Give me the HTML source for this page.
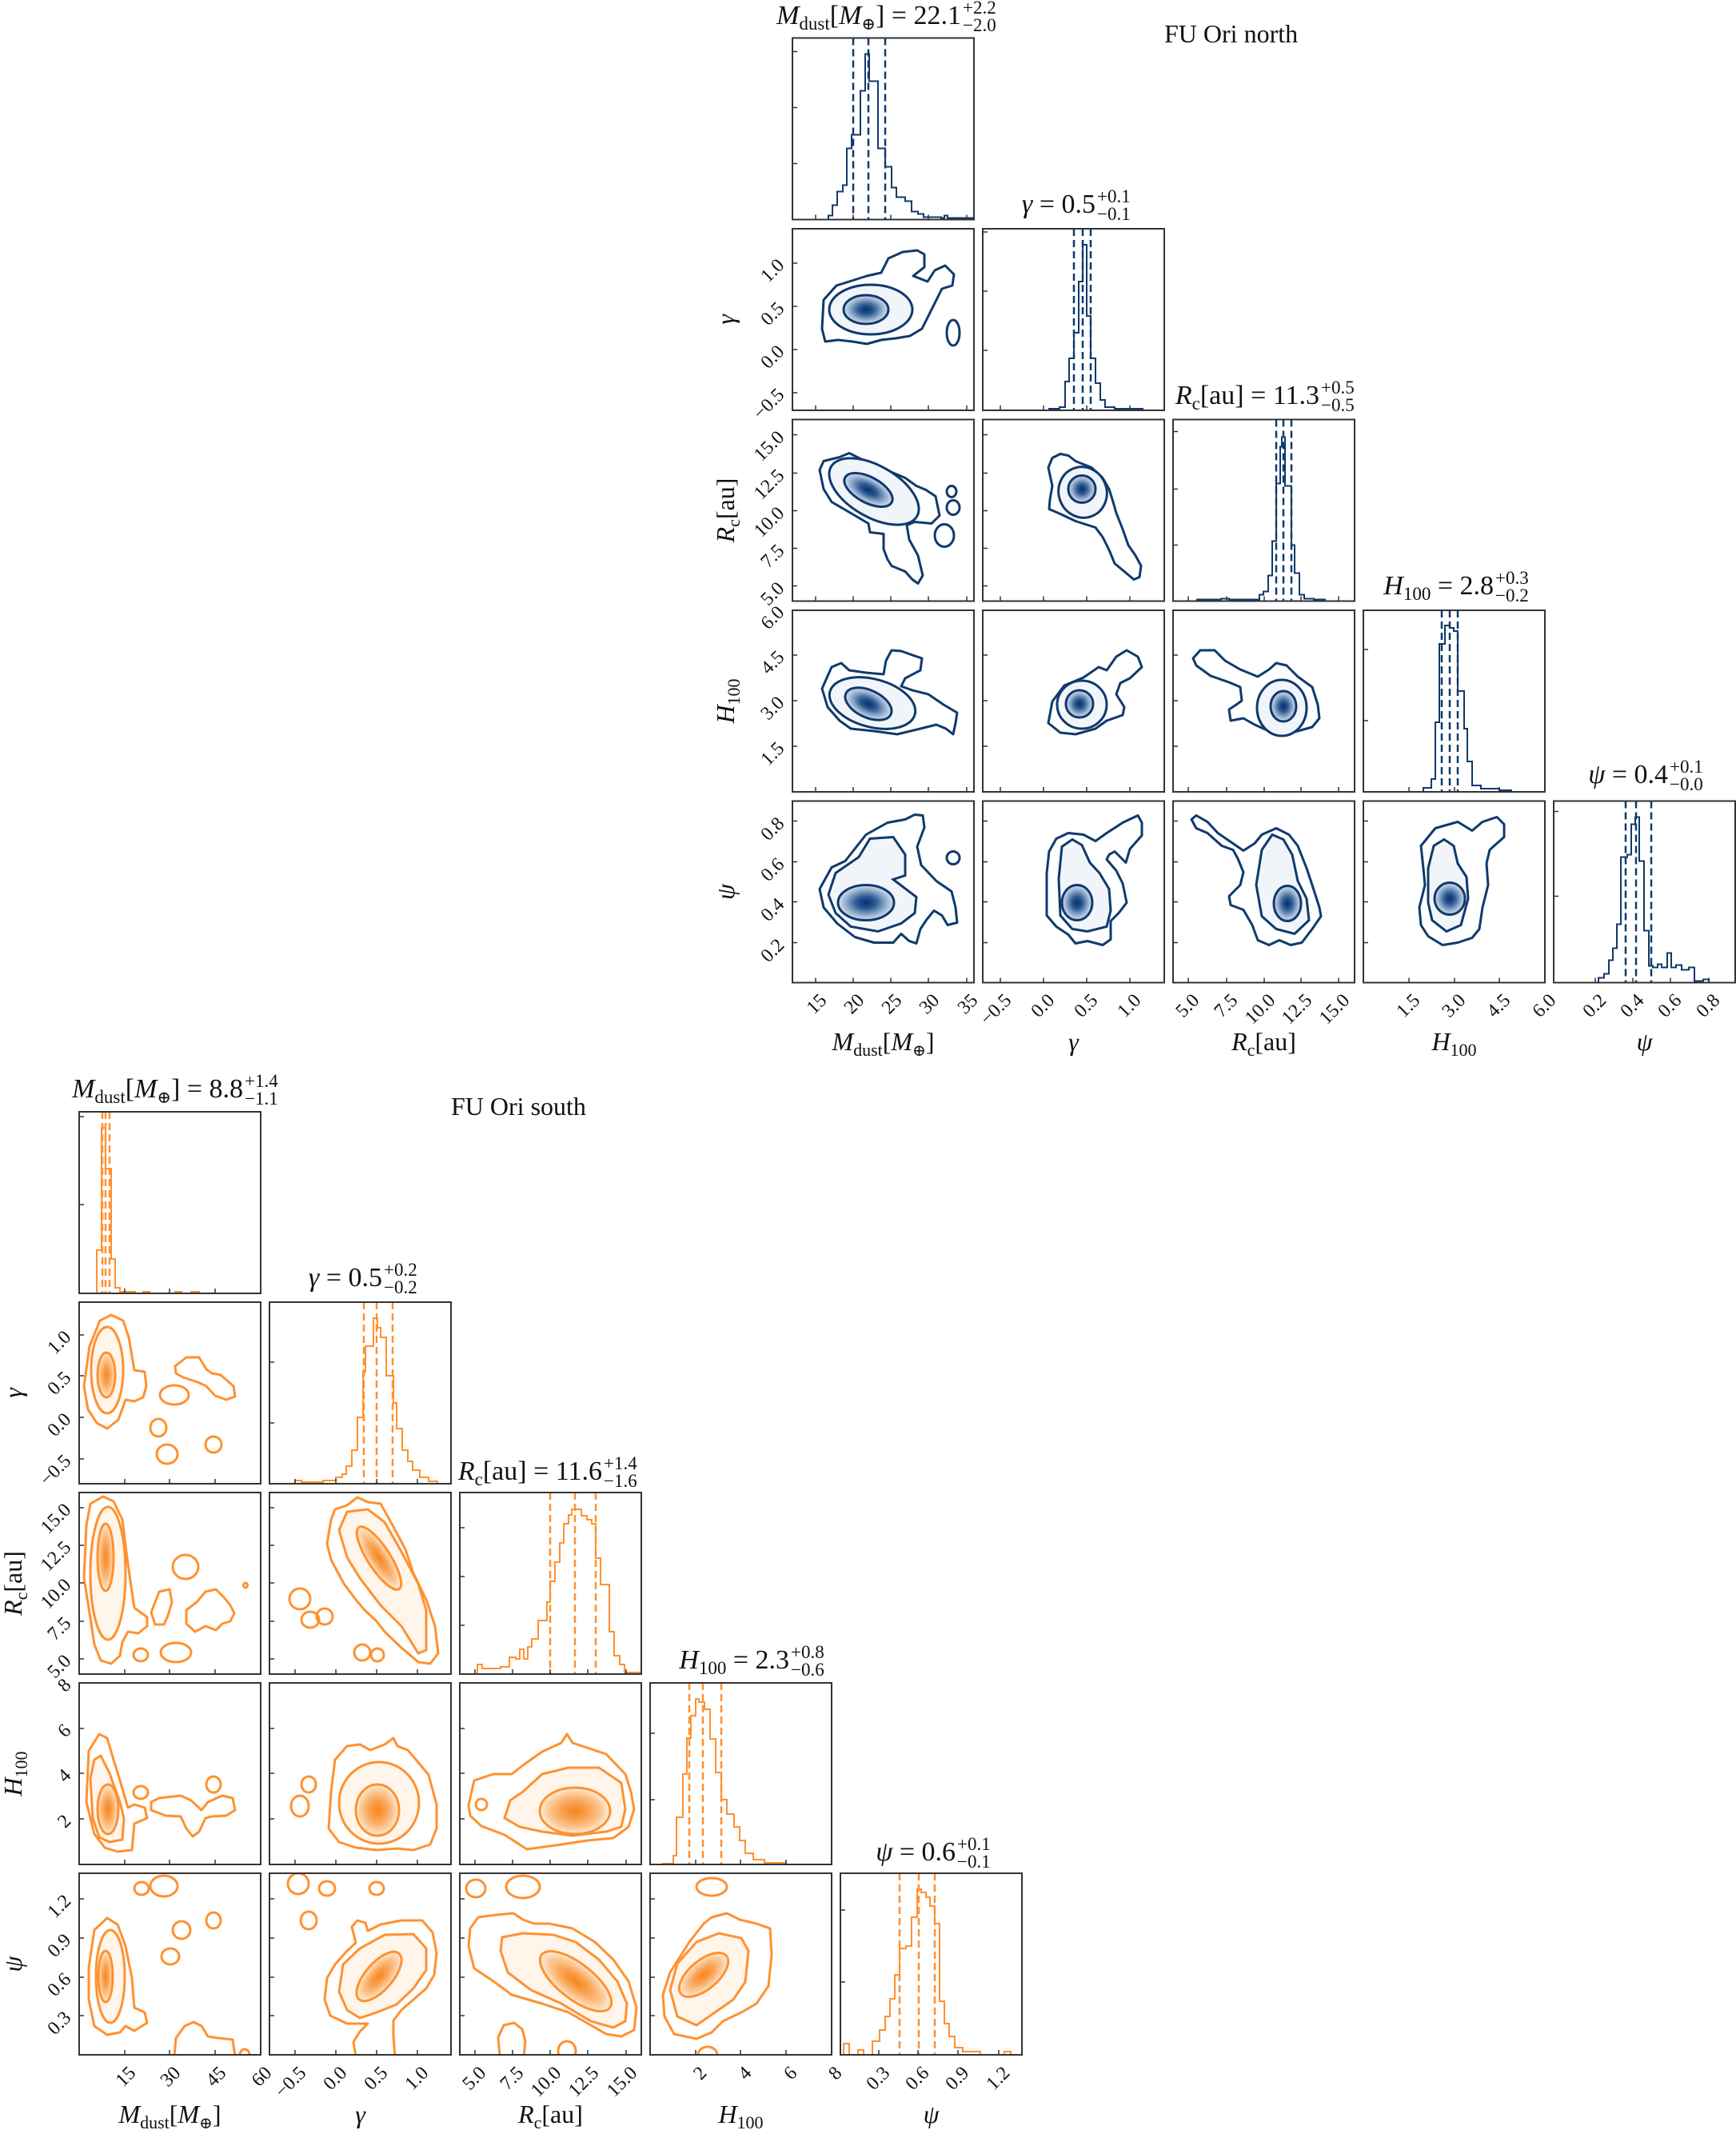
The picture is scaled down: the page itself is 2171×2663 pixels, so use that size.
<!DOCTYPE html>
<html><head><meta charset="utf-8"><style>
html,body{margin:0;padding:0;background:#fff}
svg{display:block}
text{font-family:"Liberation Serif","DejaVu Serif",serif;fill:#111}
.nl{fill:none;stroke:#0f3a6c;stroke-width:3;stroke-linejoin:round}
.ol{fill:none;stroke:#ff9130;stroke-width:3;stroke-linejoin:round}
.nm{fill:#f1f5fa;stroke:#0f3a6c;stroke-width:3}
.om{fill:#fff5eb;stroke:#ff9130;stroke-width:3}
.ni{fill:url(#gb);stroke:#0f3a6c;stroke-width:3}
.oi{fill:url(#go);stroke:#ff9130;stroke-width:3}
.fr{fill:none;stroke:#333;stroke-width:2}
.tk{fill:none;stroke:#333;stroke-width:1.5}
.nh{fill:none;stroke:#0f3a6c;stroke-width:2}
.oh{fill:none;stroke:#ff9130;stroke-width:2}
.nd{stroke:#0f3a6c;stroke-width:2.5;stroke-dasharray:9 5}
.od{stroke:#ff9130;stroke-width:2.5;stroke-dasharray:9 5}
.tl{font-size:24px;text-anchor:end}
.al{font-size:32px;text-anchor:middle}
.tt{font-size:34px;text-anchor:end}
.sc{font-size:23px}
</style></head><body>
<svg width="2171" height="2663" viewBox="0 0 2171 2663" xmlns="http://www.w3.org/2000/svg">
<defs>
<radialGradient id="gb"><stop offset="0" stop-color="#08306b"/><stop offset="0.35" stop-color="#2c5a92"/><stop offset="0.7" stop-color="#8fa9c9"/><stop offset="1" stop-color="#d8e2ef"/></radialGradient>
<radialGradient id="go"><stop offset="0" stop-color="#f8861a"/><stop offset="0.4" stop-color="#f9a355"/><stop offset="0.75" stop-color="#fcc996"/><stop offset="1" stop-color="#feeedd"/></radialGradient>
<clipPath id="cp"><rect x="0" y="0" width="227" height="227"/></clipPath>
</defs>

<!-- ================= NORTH ================= -->
<text x="1456" y="53" font-size="32">FU Ori north</text>

<!-- N(0,0) -->
<g transform="translate(991,47.5)">
<path class="nh" d="M0,227 H45 V222 H50 V209 H56 V192 H63 V184 H68 V138 H74 V121 H85 V66 H91 V20 H96 V54 H107 V138 H116 V161 H124 V187 H130 V199 H141 V204 H149 V217 H157 V220 H164 V224 H186 V225 H190 V222 H194 V225 H227"/>
<line class="nd" x1="76" y1="0" x2="76" y2="227"/><line class="nd" x1="95" y1="0" x2="95" y2="227"/><line class="nd" x1="116" y1="0" x2="116" y2="227"/>
<path class="tk" d="M0,17h6M0,87h6M0,157h6M29,227v-6M76,227v-6M123,227v-6M170,227v-6M218,227v-6"/>
<rect class="fr" width="227" height="227"/></g>

<!-- N(1,0) -->
<g transform="translate(991,286)"><g clip-path="url(#cp)">
<polygon class="nl" points="37,125 39,89 55,71 71,66 93,59 111,55 120,37 138,29 156,27 165,32 165,48 151,59 169,66 178,52 191,46 202,57 200,71 187,75 178,93 169,111 162,125 147,134 129,137 111,139 93,144 75,141 57,139 41,141"/>
<ellipse class="nm" cx="98" cy="101" rx="52" ry="31"/>
<ellipse class="ni" cx="92" cy="101" rx="28" ry="18"/>
<ellipse class="nl" cx="201" cy="130" rx="8" ry="16"/></g>
<path class="tk" d="M0,43h6M0,97h6M0,151h6M0,205h6M29,227v-6M76,227v-6M123,227v-6M170,227v-6M218,227v-6"/>
<rect class="fr" width="227" height="227"/></g>

<!-- N(1,1) -->
<g transform="translate(1229,286)">
<path class="nh" d="M0,227 H83 V225 H96 V223 H103 V191 H108 V162 H114 V130 H120 V66 H125 V20 H130 V109 H135 V162 H141 V193 H147 V214 H153 V223 H165 V225 H200 V227 H227"/>
<line class="nd" x1="114" y1="0" x2="114" y2="227"/><line class="nd" x1="125" y1="0" x2="125" y2="227"/><line class="nd" x1="135" y1="0" x2="135" y2="227"/>
<path class="tk" d="M0,4h6M0,78h6M0,152h6M22,227v-6M76,227v-6M130,227v-6M184,227v-6"/>
<rect class="fr" width="227" height="227"/></g>

<!-- N(2,0) -->
<g transform="translate(991,524.5)"><g clip-path="url(#cp)">
<polygon class="nl" points="34,63 39,52 59,47 71,42 83,48 102,57 122,65 141,73 155,83 167,88 179,96 184,120 174,130 153,128 143,132 146,150 157,170 163,195 157,205 150,200 141,190 124,183 119,175 114,162 114,143 97,141 95,130 73,117 49,103 39,87"/>
<ellipse class="nm" cx="102" cy="90" rx="62" ry="32" transform="rotate(30 102 90)"/>
<ellipse class="ni" cx="95" cy="88" rx="33" ry="16" transform="rotate(28 95 88)"/>
<ellipse class="nl" cx="199" cy="90" rx="6" ry="7"/><ellipse class="nl" cx="201" cy="110" rx="8" ry="9"/><ellipse class="nl" cx="190" cy="145" rx="12" ry="14"/></g>
<path class="tk" d="M0,19h6M0,67h6M0,114h6M0,161h6M0,208h6M29,227v-6M76,227v-6M123,227v-6M170,227v-6M218,227v-6"/>
<rect class="fr" width="227" height="227"/></g>

<!-- N(2,1) -->
<g transform="translate(1229,524.5)"><g clip-path="url(#cp)">
<polygon class="nl" points="82,60 87,48 97,43 107,45 116,52 136,60 150,73 158,87 163,103 167,117 175,137 182,157 191,170 198,183 196,197 189,200 177,190 165,180 158,163 150,147 141,135 116,127 97,118 83,112 84,100 87,83"/>
<ellipse class="nm" cx="125" cy="91" rx="30" ry="32" transform="rotate(-20 125 91)"/>
<ellipse class="ni" cx="124" cy="87" rx="17" ry="17"/></g>
<path class="tk" d="M0,19h6M0,67h6M0,114h6M0,161h6M0,208h6M22,227v-6M76,227v-6M130,227v-6M184,227v-6"/>
<rect class="fr" width="227" height="227"/></g>

<!-- N(2,2) -->
<g transform="translate(1467,524.5)">
<path class="nh" d="M0,227 H30 V225 H60 V224 H70 V225 H102 V225 H108 V219 H113 V215 H119 V195 H124 V152 H129 V80 H134 V34 H136 V22 H140 V83 H148 V157 H152 V192 H158 V219 H164 V224 H176 V225 H190 V227 H227"/>
<line class="nd" x1="129" y1="0" x2="129" y2="227"/><line class="nd" x1="138" y1="0" x2="138" y2="227"/><line class="nd" x1="148" y1="0" x2="148" y2="227"/>
<path class="tk" d="M0,15h6M0,87h6M0,157h6M19,227v-6M67,227v-6M114,227v-6M160,227v-6M207,227v-6"/>
<rect class="fr" width="227" height="227"/></g>

<!-- N(3,0) -->
<g transform="translate(991,763)"><g clip-path="url(#cp)">
<polygon class="nl" points="37,98 49,71 61,66 71,75 92,78 114,80 117,63 124,50 136,51 150,56 162,60 160,75 141,85 136,95 150,100 170,105 189,118 206,128 204,141 201,155 192,148 180,143 160,148 131,155 102,151 73,148 59,138 44,121"/>
<ellipse class="nm" cx="100" cy="116" rx="55" ry="30" transform="rotate(15 100 116)"/>
<ellipse class="ni" cx="95" cy="117" rx="31" ry="17" transform="rotate(25 95 117)"/></g>
<path class="tk" d="M0,56h6M0,113h6M0,170h6M29,227v-6M76,227v-6M123,227v-6M170,227v-6M218,227v-6"/>
<rect class="fr" width="227" height="227"/></g>

<!-- N(3,1) -->
<g transform="translate(1229,763)"><g clip-path="url(#cp)">
<polygon class="nl" points="82,141 87,114 102,94 126,84 145,71 155,75 167,58 180,50 194,58 199,71 184,85 172,91 167,105 177,121 175,131 155,138 141,148 116,155 97,153"/>
<ellipse class="nm" cx="124" cy="118" rx="31" ry="30"/>
<ellipse class="ni" cx="121" cy="117" rx="17" ry="17"/></g>
<path class="tk" d="M0,56h6M0,113h6M0,170h6M22,227v-6M76,227v-6M130,227v-6M184,227v-6"/>
<rect class="fr" width="227" height="227"/></g>

<!-- N(3,2) -->
<g transform="translate(1467,763)"><g clip-path="url(#cp)">
<polygon class="nl" points="25,60 34,50 52,50 65,63 84,74 106,83 120,74 129,66 142,69 156,83 174,96 181,118 183,135 174,146 156,151 138,155 120,151 102,143 88,135 72,138 70,124 79,118 86,113 84,96 70,90 47,82 29,69"/>
<ellipse class="nm" cx="136" cy="122" rx="31" ry="35"/>
<ellipse class="ni" cx="138" cy="120" rx="16" ry="19"/></g>
<path class="tk" d="M0,56h6M0,113h6M0,170h6M19,227v-6M67,227v-6M114,227v-6M160,227v-6M207,227v-6"/>
<rect class="fr" width="227" height="227"/></g>

<!-- N(3,3) -->
<g transform="translate(1705,763)">
<path class="nh" d="M0,227 H75 V222 H85 V211 H90 V140 H95 V42 H102 V19 H108 V22 H113 V26 H118 V101 H126 V148 H130 V189 H136 V219 H147 V223 H170 V225 H185 V227 H227"/>
<line class="nd" x1="98" y1="0" x2="98" y2="227"/><line class="nd" x1="108" y1="0" x2="108" y2="227"/><line class="nd" x1="118" y1="0" x2="118" y2="227"/>
<path class="tk" d="M0,49h6M0,138h6M57,227v-6M114,227v-6M170,227v-6"/>
<rect class="fr" width="227" height="227"/></g>

<!-- N(4,0) -->
<g transform="translate(991,1001.5)"><g clip-path="url(#cp)">
<polygon class="nl" points="34,110 49,83 66,75 92,42 119,27 141,23 153,17 163,18 165,33 156,57 161,80 180,100 199,113 204,133 206,152 194,155 187,143 177,137 168,148 160,160 155,178 146,175 136,166 126,177 102,177 78,170 56,153 39,133"/>
<polygon class="nm" points="45,117 54,90 83,70 97,47 126,45 141,67 141,93 126,98 155,120 153,140 136,153 107,163 73,157 54,140"/>
<ellipse class="ni" cx="92" cy="127" rx="35" ry="22"/>
<ellipse class="nl" cx="201" cy="71" rx="8" ry="8"/></g>
<path class="tk" d="M0,25h6M0,76h6M0,126h6M0,177h6M29,227v-6M76,227v-6M123,227v-6M170,227v-6M218,227v-6"/>
<rect class="fr" width="227" height="227"/></g>

<!-- N(4,1) -->
<g transform="translate(1229,1001.5)"><g clip-path="url(#cp)">
<polygon class="nl" points="80,143 80,90 83,63 92,47 107,40 126,42 141,50 155,40 175,27 194,18 199,27 199,43 184,60 179,77 175,73 165,63 158,67 155,73 167,87 175,103 180,127 170,140 160,150 160,173 150,180 131,175 116,178 107,167 92,157"/>
<polygon class="nm" points="95,97 99,57 112,48 124,55 134,77 146,90 158,110 160,137 155,157 131,163 112,160 97,143"/>
<ellipse class="ni" cx="118" cy="127" rx="19" ry="22"/></g>
<path class="tk" d="M0,25h6M0,76h6M0,126h6M0,177h6M22,227v-6M76,227v-6M130,227v-6M184,227v-6"/>
<rect class="fr" width="227" height="227"/></g>

<!-- N(4,2) -->
<g transform="translate(1467,1001.5)"><g clip-path="url(#cp)">
<polygon class="nl" points="23,23 29,18 43,26 56,40 72,51 88,62 102,53 111,42 129,34 145,42 156,56 167,84 174,105 183,133 185,144 174,160 161,177 147,180 133,174 120,180 106,174 99,155 88,136 72,130 70,119 84,105 88,89 81,72 75,61 61,56 43,40 29,34"/>
<polygon class="nm" points="104,105 111,61 124,42 138,48 149,67 156,100 167,122 170,149 152,166 129,160 111,144"/>
<ellipse class="ni" cx="143" cy="128" rx="17" ry="22"/></g>
<path class="tk" d="M0,25h6M0,76h6M0,126h6M0,177h6M19,227v-6M67,227v-6M114,227v-6M160,227v-6M207,227v-6"/>
<rect class="fr" width="227" height="227"/></g>

<!-- N(4,3) -->
<g transform="translate(1705,1001.5)"><g clip-path="url(#cp)">
<polygon class="nl" points="72,56 90,34 118,26 136,37 149,26 167,20 176,29 176,45 158,61 154,78 156,105 149,133 145,160 136,171 118,177 99,180 81,169 72,155 70,133 77,105 75,84"/>
<polygon class="nm" points="81,84 88,56 101,48 113,56 118,78 129,95 131,122 122,155 104,163 86,149 81,127"/>
<ellipse class="ni" cx="108" cy="122" rx="19" ry="20"/></g>
<path class="tk" d="M0,25h6M0,76h6M0,126h6M0,177h6M57,227v-6M114,227v-6M170,227v-6"/>
<rect class="fr" width="227" height="227"/></g>

<!-- N(4,4) -->
<g transform="translate(1943,1001.5)">
<path class="nh" d="M0,227 H56 V221 H63 V216 H69 V199 H74 V184 H79 V154 H84 V70 H92 V67 H97 V29 H102 V20 H107 V75 H113 V162 H119 V206 H124 V208 H130 V204 H135 V208 H142 V190 H147 V208 H153 V205 H160 V211 H169 V208 H176 V225 H187 V223 H194 V227 H227"/>
<line class="nd" x1="90" y1="0" x2="90" y2="227"/><line class="nd" x1="103" y1="0" x2="103" y2="227"/><line class="nd" x1="122" y1="0" x2="122" y2="227"/>
<path class="tk" d="M0,13h6M0,119h6M52,227v-6M99,227v-6M146,227v-6M194,227v-6"/>
<rect class="fr" width="227" height="227"/></g>

<!-- North titles -->
<text class="tt" x="1202" y="30"><tspan font-style="italic">M</tspan><tspan font-size="23" dy="7">dust</tspan><tspan dy="-7">[</tspan><tspan font-style="italic">M</tspan><tspan font-size="21" dy="7">⊕</tspan><tspan dy="-7">] = 22.1</tspan></text>
<text class="sc" x="1204" y="17">+2.2</text><text class="sc" x="1204" y="39">−2.0</text>
<text class="tt" x="1370" y="266"><tspan font-style="italic">γ</tspan> = 0.5</text>
<text class="sc" x="1372" y="253">+0.1</text><text class="sc" x="1372" y="275">−0.1</text>
<text class="tt" x="1650" y="505"><tspan font-style="italic">R</tspan><tspan font-size="23" dy="7">c</tspan><tspan dy="-7">[au] = 11.3</tspan></text>
<text class="sc" x="1652" y="492">+0.5</text><text class="sc" x="1652" y="514">−0.5</text>
<text class="tt" x="1868" y="743"><tspan font-style="italic">H</tspan><tspan font-size="23" dy="7">100</tspan><tspan dy="-7"> = 2.8</tspan></text>
<text class="sc" x="1870" y="730">+0.3</text><text class="sc" x="1870" y="752">−0.2</text>
<text class="tt" x="2086" y="979"><tspan font-style="italic">ψ</tspan> = 0.4</text>
<text class="sc" x="2088" y="966">+0.1</text><text class="sc" x="2088" y="988">−0.0</text>

<!-- North bottom tick labels -->
<g class="tl">
<text transform="translate(1035,1252) rotate(-45)">15</text><text transform="translate(1082,1252) rotate(-45)">20</text><text transform="translate(1129,1252) rotate(-45)">25</text><text transform="translate(1176,1252) rotate(-45)">30</text><text transform="translate(1224,1252) rotate(-45)">35</text>
<text transform="translate(1266,1252) rotate(-45)">−0.5</text><text transform="translate(1320,1252) rotate(-45)">0.0</text><text transform="translate(1374,1252) rotate(-45)">0.5</text><text transform="translate(1428,1252) rotate(-45)">1.0</text>
<text transform="translate(1501,1252) rotate(-45)">5.0</text><text transform="translate(1549,1252) rotate(-45)">7.5</text><text transform="translate(1596,1252) rotate(-45)">10.0</text><text transform="translate(1642,1252) rotate(-45)">12.5</text><text transform="translate(1689,1252) rotate(-45)">15.0</text>
<text transform="translate(1777,1252) rotate(-45)">1.5</text><text transform="translate(1834,1252) rotate(-45)">3.0</text><text transform="translate(1890,1252) rotate(-45)">4.5</text><text transform="translate(1947,1252) rotate(-45)">6.0</text>
<text transform="translate(2010,1252) rotate(-45)">0.2</text><text transform="translate(2057,1252) rotate(-45)">0.4</text><text transform="translate(2104,1252) rotate(-45)">0.6</text><text transform="translate(2152,1252) rotate(-45)">0.8</text>
<!-- left -->
<text transform="translate(982,333) rotate(-45)">1.0</text><text transform="translate(982,387) rotate(-45)">0.5</text><text transform="translate(982,441) rotate(-45)">0.0</text><text transform="translate(982,495) rotate(-45)">−0.5</text>
<text transform="translate(982,548) rotate(-45)">15.0</text><text transform="translate(982,596) rotate(-45)">12.5</text><text transform="translate(982,643) rotate(-45)">10.0</text><text transform="translate(982,690) rotate(-45)">7.5</text><text transform="translate(982,737) rotate(-45)">5.0</text>
<text transform="translate(982,767) rotate(-45)">6.0</text><text transform="translate(982,823) rotate(-45)">4.5</text><text transform="translate(982,880) rotate(-45)">3.0</text><text transform="translate(982,937) rotate(-45)">1.5</text>
<text transform="translate(982,1031) rotate(-45)">0.8</text><text transform="translate(982,1082) rotate(-45)">0.6</text><text transform="translate(982,1132) rotate(-45)">0.4</text><text transform="translate(982,1183) rotate(-45)">0.2</text>
</g>
<!-- North axis labels -->
<g class="al">
<text x="1104.5" y="1313"><tspan font-style="italic">M</tspan><tspan font-size="22" dy="7">dust</tspan><tspan dy="-7">[</tspan><tspan font-style="italic">M</tspan><tspan font-size="20" dy="7">⊕</tspan><tspan dy="-7">]</tspan></text>
<text x="1342.5" y="1313" font-style="italic">γ</text>
<text x="1580.5" y="1313"><tspan font-style="italic">R</tspan><tspan font-size="22" dy="7">c</tspan><tspan dy="-7">[au]</tspan></text>
<text x="1818.5" y="1313"><tspan font-style="italic">H</tspan><tspan font-size="22" dy="7">100</tspan></text>
<text x="2056.5" y="1313" font-style="italic">ψ</text>
<text transform="translate(918,399.5) rotate(-90)" font-style="italic">γ</text>
<text transform="translate(918,638) rotate(-90)"><tspan font-style="italic">R</tspan><tspan font-size="22" dy="7">c</tspan><tspan dy="-7">[au]</tspan></text>
<text transform="translate(918,876.5) rotate(-90)"><tspan font-style="italic">H</tspan><tspan font-size="22" dy="7">100</tspan></text>
<text transform="translate(918,1115) rotate(-90)" font-style="italic">ψ</text>
</g>

<!-- ================= SOUTH ================= -->
<text x="564" y="1394" font-size="32">FU Ori south</text>

<!-- S(0,0) -->
<g transform="translate(99,1390)">
<path class="oh" d="M0,227 H22 V173 H28 V20 H33 V71 H40 V184 H45 V220 H51 V225 H70 V227 H80 V225 H88 V227 H120 V225 H128 V227 H140 V225 H150 V227 H227"/>
<line class="od" x1="29" y1="0" x2="29" y2="227"/><line class="od" x1="33" y1="0" x2="33" y2="227"/><line class="od" x1="38" y1="0" x2="38" y2="227"/>
<path class="tk" d="M0,6h6M0,116h6M57,227v-6M113,227v-6M170,227v-6"/>
<rect class="fr" width="227" height="227"/></g>

<!-- S(1,0) -->
<g transform="translate(99,1628)"><g clip-path="url(#cp)">
<polygon class="ol" points="6,105 13,55 26,23 40,16 55,23 62,44 69,85 82,87 84,105 80,119 69,124 58,122 49,147 35,158 22,151 11,134"/>
<ellipse class="om" cx="35" cy="85" rx="20" ry="54"/>
<ellipse class="oi" cx="34" cy="91" rx="11" ry="28"/>
<polygon class="ol" points="120,80 134,69 150,69 159,84 166,89 177,91 193,105 195,118 184,122 170,117 159,105 148,100 130,94 121,89"/>
<ellipse class="ol" cx="119" cy="116" rx="18" ry="12"/><ellipse class="ol" cx="99" cy="157" rx="10" ry="11"/><ellipse class="ol" cx="110" cy="190" rx="13" ry="12"/><ellipse class="ol" cx="168" cy="178" rx="10" ry="10"/></g>
<path class="tk" d="M0,41h6M0,92h6M0,144h6M0,196h6M57,227v-6M113,227v-6M170,227v-6"/>
<rect class="fr" width="227" height="227"/></g>

<!-- S(1,1) -->
<g transform="translate(337,1628)">
<path class="oh" d="M0,227 H32 V223 H40 V225 H67 V223 H83 V219 H91 V215 H96 V205 H103 V185 H110 V144 H117 V87 H120 V55 H125 V55 H130 V20 H135 V32 H139 V44 H146 V92 H155 V126 H159 V158 H166 V185 H173 V199 H179 V210 H188 V219 H199 V224 H210 V227 H227"/>
<line class="od" x1="118" y1="0" x2="118" y2="227"/><line class="od" x1="134" y1="0" x2="134" y2="227"/><line class="od" x1="154" y1="0" x2="154" y2="227"/>
<path class="tk" d="M0,75h6M0,151h6M32,227v-6M83,227v-6M134,227v-6M185,227v-6"/>
<rect class="fr" width="227" height="227"/></g>

<!-- S(2,0) -->
<g transform="translate(99,1866)"><g clip-path="url(#cp)">
<polygon class="ol" points="9,41 14,14 30,5 43,11 54,34 59,74 64,111 69,144 85,156 85,167 74,176 61,174 54,187 51,204 40,214 27,210 19,190 14,157 6,107"/>
<ellipse class="om" cx="36" cy="101" rx="22" ry="83"/>
<ellipse class="oi" cx="33" cy="81" rx="10" ry="42"/>
<ellipse class="ol" cx="133" cy="93" rx="16" ry="15"/><ellipse class="ol" cx="77" cy="203" rx="9" ry="8"/><ellipse class="ol" cx="121" cy="200" rx="19" ry="12"/>
<polygon class="ol" points="90,150 100,124 113,121 116,137 111,154 106,165 95,165"/>
<polygon class="ol" points="134,147 147,137 158,124 171,121 181,131 189,141 194,151 189,161 179,164 171,172 158,167 145,174 134,164"/>
<ellipse class="ol" cx="208" cy="116" rx="2.5" ry="3"/></g>
<path class="tk" d="M0,19h6M0,66h6M0,113h6M0,161h6M0,208h6M57,227v-6M113,227v-6M170,227v-6"/>
<rect class="fr" width="227" height="227"/></g>

<!-- S(2,1) -->
<g transform="translate(337,1866)"><g clip-path="url(#cp)">
<polygon class="ol" points="72,64 77,34 82,21 97,16 110,6 123,12 139,14 154,41 170,71 180,101 196,134 207,167 211,201 201,214 186,212 165,194 144,174 134,161 119,147 108,134 93,114 77,84"/>
<polygon class="om" points="87,47 97,24 123,21 144,37 165,74 186,114 196,147 196,197 186,201 165,167 139,141 113,107 97,81"/>
<ellipse class="oi" cx="137" cy="82" rx="46" ry="14" transform="rotate(57 137 82)"/>
<ellipse class="ol" cx="38" cy="133" rx="13" ry="13"/><ellipse class="ol" cx="51" cy="159" rx="11" ry="10"/><ellipse class="ol" cx="69" cy="155" rx="10" ry="10"/><ellipse class="ol" cx="116" cy="200" rx="10" ry="10"/><ellipse class="ol" cx="135" cy="203" rx="8" ry="8"/></g>
<path class="tk" d="M0,19h6M0,66h6M0,113h6M0,161h6M0,208h6M32,227v-6M83,227v-6M134,227v-6M185,227v-6"/>
<rect class="fr" width="227" height="227"/></g>

<!-- S(2,2) -->
<g transform="translate(575,1866)">
<path class="oh" d="M0,227 H22 V215 H28 V220 H51 V218 H62 V206 H70 V208 H75 V196 H80 V208 H85 V193 H90 V183 H98 V160 H109 V137 H113 V111 H119 V87 H125 V63 H130 V39 H136 V28 H140 V21 H152 V29 H159 V34 H165 V39 H170 V82 H176 V115 H187 V174 H193 V204 H200 V215 H206 V225 H227"/>
<line class="od" x1="113" y1="0" x2="113" y2="227"/><line class="od" x1="144" y1="0" x2="144" y2="227"/><line class="od" x1="170" y1="0" x2="170" y2="227"/>
<path class="tk" d="M0,44h6M0,105h6M0,166h6M19,227v-6M66,227v-6M113,227v-6M160,227v-6M208,227v-6"/>
<rect class="fr" width="227" height="227"/></g>

<!-- S(3,0) -->
<g transform="translate(99,2104)"><g clip-path="url(#cp)">
<polygon class="ol" points="9,149 12,85 25,64 35,69 43,96 51,122 61,156 69,152 82,156 85,169 69,176 66,209 48,211 32,206 19,189"/>
<polygon class="om" points="14,119 19,96 27,91 38,113 51,149 56,169 54,196 38,199 25,193 17,169"/>
<ellipse class="oi" cx="36" cy="158" rx="13" ry="31"/>
<ellipse class="ol" cx="77" cy="137" rx="9" ry="8"/><ellipse class="ol" cx="168" cy="127" rx="9" ry="10"/>
<polygon class="ol" points="90,149 100,144 127,141 140,147 153,159 161,149 179,141 192,144 195,159 184,166 166,167 158,169 150,186 142,192 134,182 127,167 108,166 90,159"/></g>
<path class="tk" d="M0,57h6M0,113h6M0,170h6M57,227v-6M113,227v-6M170,227v-6"/>
<rect class="fr" width="227" height="227"/></g>

<!-- S(3,1) -->
<g transform="translate(337,2104)"><g clip-path="url(#cp)">
<polygon class="ol" points="74,182 77,136 82,96 97,79 113,77 126,84 144,77 155,69 160,79 173,84 184,97 199,115 209,152 209,182 201,202 180,209 160,207 134,209 108,206 87,199"/>
<ellipse class="om" cx="137" cy="150" rx="50" ry="51"/>
<ellipse class="oi" cx="135" cy="159" rx="27" ry="32"/>
<ellipse class="ol" cx="49" cy="127" rx="9" ry="10"/><ellipse class="ol" cx="38" cy="154" rx="11" ry="13"/></g>
<path class="tk" d="M0,57h6M0,113h6M0,170h6M32,227v-6M83,227v-6M134,227v-6M185,227v-6"/>
<rect class="fr" width="227" height="227"/></g>

<!-- S(3,2) -->
<g transform="translate(575,2104)"><g clip-path="url(#cp)">
<polygon class="ol" points="11,153 18,122 42,114 65,114 79,103 103,86 127,75 134,64 141,75 183,89 207,114 214,136 218,158 211,180 192,194 160,197 127,202 84,208 56,190 27,179 13,166"/>
<polygon class="om" points="56,169 63,147 79,136 103,114 136,106 174,106 202,125 207,158 202,180 183,186 141,191 103,186 75,180"/>
<ellipse class="oi" cx="144" cy="160" rx="44" ry="29"/>
<ellipse class="ol" cx="27" cy="152" rx="7" ry="7"/></g>
<path class="tk" d="M0,57h6M0,113h6M0,170h6M19,227v-6M66,227v-6M113,227v-6M160,227v-6M208,227v-6"/>
<rect class="fr" width="227" height="227"/></g>

<!-- S(3,3) -->
<g transform="translate(813,2104)">
<path class="oh" d="M0,227 H16 V226 H29 V216 H33 V168 H41 V114 H46 V69 H51 V41 H57 V20 H61 V24 H68 V33 H75 V70 H82 V112 H89 V146 H96 V164 H105 V180 H112 V197 H119 V213 H129 V221 H143 V225 H170 V227 H227"/>
<line class="od" x1="49" y1="0" x2="49" y2="227"/><line class="od" x1="66" y1="0" x2="66" y2="227"/><line class="od" x1="89" y1="0" x2="89" y2="227"/>
<path class="tk" d="M0,63h6M0,146h6M57,227v-6M113,227v-6M170,227v-6"/>
<rect class="fr" width="227" height="227"/></g>

<!-- S(4,0) -->
<g transform="translate(99,2342)"><g clip-path="url(#cp)">
<polygon class="ol" points="12,118 19,71 35,56 48,64 58,91 66,131 69,168 82,174 85,187 69,197 58,191 51,199 35,202 19,191 12,158"/>
<ellipse class="om" cx="39" cy="129" rx="18" ry="58"/>
<ellipse class="oi" cx="33" cy="129" rx="9" ry="32"/>
<ellipse class="ol" cx="78" cy="19" rx="9" ry="8"/><ellipse class="ol" cx="106" cy="16" rx="17" ry="13"/><ellipse class="ol" cx="128" cy="71" rx="11" ry="11"/><ellipse class="ol" cx="114" cy="104" rx="11" ry="10"/><ellipse class="ol" cx="168" cy="59" rx="9" ry="10"/>
<polyline class="ol" points="119,229 121,206 132,191 143,186 153,191 161,204 174,206 192,208 195,229"/>
<ellipse class="ol" cx="207" cy="227" rx="6" ry="7"/></g>
<path class="tk" d="M0,32h6M0,81h6M0,130h6M0,178h6M57,227v-6M113,227v-6M170,227v-6"/>
<rect class="fr" width="227" height="227"/></g>

<!-- S(4,1) -->
<g transform="translate(337,2342)"><g clip-path="url(#cp)">
<polygon class="ol" points="69,158 72,131 82,114 97,97 108,87 103,67 110,59 120,62 123,72 139,64 165,59 191,59 204,74 209,100 206,127 196,144 180,158 165,171 155,184 155,204 157,229 108,229 105,211 113,198 123,188 97,188 76,178"/>
<polygon class="om" points="87,148 92,114 113,94 144,77 180,76 196,94 196,121 180,144 159,164 134,174 113,181 97,171"/>
<ellipse class="oi" cx="137" cy="129" rx="38" ry="17" transform="rotate(-49 137 129)"/>
<ellipse class="ol" cx="36" cy="13" rx="13" ry="13"/><ellipse class="ol" cx="72" cy="19" rx="10" ry="9"/><ellipse class="ol" cx="134" cy="19" rx="9" ry="8"/><ellipse class="ol" cx="49" cy="59" rx="10" ry="11"/></g>
<path class="tk" d="M0,32h6M0,81h6M0,130h6M0,178h6M32,227v-6M83,227v-6M134,227v-6M185,227v-6"/>
<rect class="fr" width="227" height="227"/></g>

<!-- S(4,2) -->
<g transform="translate(575,2342)"><g clip-path="url(#cp)">
<polygon class="ol" points="13,69 23,55 46,52 67,50 79,58 93,63 112,63 141,69 169,86 192,108 211,135 221,168 218,196 202,204 183,201 164,190 136,174 103,163 65,152 42,135 18,119 11,91"/>
<polygon class="om" points="53,80 79,75 117,77 145,86 174,108 197,135 209,163 207,185 192,193 164,185 127,163 89,146 60,124 51,97"/>
<ellipse class="oi" cx="145" cy="135" rx="54" ry="22" transform="rotate(38 145 135)"/>
<ellipse class="ol" cx="20" cy="19" rx="12" ry="11"/><ellipse class="ol" cx="79" cy="17" rx="21" ry="14"/>
<polyline class="ol" points="50,229 48,205 55,190 68,187 78,195 82,210 80,229"/>
<ellipse class="ol" cx="134" cy="222" rx="11" ry="12"/></g>
<path class="tk" d="M0,32h6M0,81h6M0,130h6M0,178h6M19,227v-6M66,227v-6M113,227v-6M160,227v-6M208,227v-6"/>
<rect class="fr" width="227" height="227"/></g>

<!-- S(4,3) -->
<g transform="translate(813,2342)"><g clip-path="url(#cp)">
<polygon class="ol" points="16,152 25,124 49,86 67,63 77,55 96,50 112,58 133,63 150,69 152,102 148,141 133,163 114,174 91,185 77,199 58,207 30,201 18,179"/>
<polygon class="om" points="25,146 34,113 58,86 86,75 114,81 123,97 119,136 104,158 81,174 58,190 34,179"/>
<ellipse class="oi" cx="67" cy="127" rx="37" ry="18" transform="rotate(-40 67 127)"/>
<ellipse class="ol" cx="77" cy="17" rx="19" ry="11"/>
<ellipse class="ol" cx="72" cy="227" rx="12" ry="10"/></g>
<path class="tk" d="M0,32h6M0,81h6M0,130h6M0,178h6M57,227v-6M113,227v-6M170,227v-6"/>
<rect class="fr" width="227" height="227"/></g>

<!-- S(4,4) -->
<g transform="translate(1051,2342)">
<path class="oh" d="M0,227 H4 V213 H11 V227 H22 V221 H29 V227 H40 V210 H49 V196 H56 V179 H62 V157 H68 V127 H74 V94 H82 V91 H89 V55 H96 V20 H101 V24 H107 V30 H112 V41 H118 V63 H124 V160 H130 V188 H136 V204 H143 V218 H153 V223 H175 V227 H205 V223 H213 V227 H227"/>
<line class="od" x1="74" y1="0" x2="74" y2="227"/><line class="od" x1="98" y1="0" x2="98" y2="227"/><line class="od" x1="118" y1="0" x2="118" y2="227"/>
<path class="tk" d="M0,46h6M0,136h6M48,227v-6M97,227v-6M147,227v-6M198,227v-6"/>
<rect class="fr" width="227" height="227"/></g>

<!-- South titles -->
<text class="tt" x="304" y="1372"><tspan font-style="italic">M</tspan><tspan font-size="23" dy="7">dust</tspan><tspan dy="-7">[</tspan><tspan font-style="italic">M</tspan><tspan font-size="21" dy="7">⊕</tspan><tspan dy="-7">] = 8.8</tspan></text>
<text class="sc" x="306" y="1359">+1.4</text><text class="sc" x="306" y="1381">−1.1</text>
<text class="tt" x="478" y="1608"><tspan font-style="italic">γ</tspan> = 0.5</text>
<text class="sc" x="480" y="1595">+0.2</text><text class="sc" x="480" y="1617">−0.2</text>
<text class="tt" x="753" y="1850"><tspan font-style="italic">R</tspan><tspan font-size="23" dy="7">c</tspan><tspan dy="-7">[au] = 11.6</tspan></text>
<text class="sc" x="755" y="1837">+1.4</text><text class="sc" x="755" y="1859">−1.6</text>
<text class="tt" x="987" y="2086"><tspan font-style="italic">H</tspan><tspan font-size="23" dy="7">100</tspan><tspan dy="-7"> = 2.3</tspan></text>
<text class="sc" x="989" y="2073">+0.8</text><text class="sc" x="989" y="2095">−0.6</text>
<text class="tt" x="1195" y="2326"><tspan font-style="italic">ψ</tspan> = 0.6</text>
<text class="sc" x="1197" y="2313">+0.1</text><text class="sc" x="1197" y="2335">−0.1</text>

<!-- South tick labels -->
<g class="tl">
<text transform="translate(171,2593) rotate(-45)">15</text><text transform="translate(227,2593) rotate(-45)">30</text><text transform="translate(284,2593) rotate(-45)">45</text><text transform="translate(341,2593) rotate(-45)">60</text>
<text transform="translate(384,2593) rotate(-45)">−0.5</text><text transform="translate(435,2593) rotate(-45)">0.0</text><text transform="translate(486,2593) rotate(-45)">0.5</text><text transform="translate(537,2593) rotate(-45)">1.0</text>
<text transform="translate(609,2593) rotate(-45)">5.0</text><text transform="translate(656,2593) rotate(-45)">7.5</text><text transform="translate(703,2593) rotate(-45)">10.0</text><text transform="translate(750,2593) rotate(-45)">12.5</text><text transform="translate(798,2593) rotate(-45)">15.0</text>
<text transform="translate(885,2593) rotate(-45)">2</text><text transform="translate(941,2593) rotate(-45)">4</text><text transform="translate(998,2593) rotate(-45)">6</text><text transform="translate(1054,2593) rotate(-45)">8</text>
<text transform="translate(1114,2593) rotate(-45)">0.3</text><text transform="translate(1163,2593) rotate(-45)">0.6</text><text transform="translate(1213,2593) rotate(-45)">0.9</text><text transform="translate(1264,2593) rotate(-45)">1.2</text>
<text transform="translate(90,1673) rotate(-45)">1.0</text><text transform="translate(90,1724) rotate(-45)">0.5</text><text transform="translate(90,1776) rotate(-45)">0.0</text><text transform="translate(90,1828) rotate(-45)">−0.5</text>
<text transform="translate(90,1889) rotate(-45)">15.0</text><text transform="translate(90,1936) rotate(-45)">12.5</text><text transform="translate(90,1983) rotate(-45)">10.0</text><text transform="translate(90,2031) rotate(-45)">7.5</text><text transform="translate(90,2078) rotate(-45)">5.0</text>
<text transform="translate(90,2108) rotate(-45)">8</text><text transform="translate(90,2165) rotate(-45)">6</text><text transform="translate(90,2221) rotate(-45)">4</text><text transform="translate(90,2278) rotate(-45)">2</text>
<text transform="translate(90,2378) rotate(-45)">1.2</text><text transform="translate(90,2427) rotate(-45)">0.9</text><text transform="translate(90,2476) rotate(-45)">0.6</text><text transform="translate(90,2524) rotate(-45)">0.3</text>
</g>
<!-- South axis labels -->
<g class="al">
<text x="212.5" y="2654"><tspan font-style="italic">M</tspan><tspan font-size="22" dy="7">dust</tspan><tspan dy="-7">[</tspan><tspan font-style="italic">M</tspan><tspan font-size="20" dy="7">⊕</tspan><tspan dy="-7">]</tspan></text>
<text x="450.5" y="2654" font-style="italic">γ</text>
<text x="688.5" y="2654"><tspan font-style="italic">R</tspan><tspan font-size="22" dy="7">c</tspan><tspan dy="-7">[au]</tspan></text>
<text x="926.5" y="2654"><tspan font-style="italic">H</tspan><tspan font-size="22" dy="7">100</tspan></text>
<text x="1164.5" y="2654" font-style="italic">ψ</text>
<text transform="translate(27,1741.5) rotate(-90)" font-style="italic">γ</text>
<text transform="translate(27,1979.5) rotate(-90)"><tspan font-style="italic">R</tspan><tspan font-size="22" dy="7">c</tspan><tspan dy="-7">[au]</tspan></text>
<text transform="translate(27,2217.5) rotate(-90)"><tspan font-style="italic">H</tspan><tspan font-size="22" dy="7">100</tspan></text>
<text transform="translate(27,2455.5) rotate(-90)" font-style="italic">ψ</text>
</g>
</svg>
</body></html>
